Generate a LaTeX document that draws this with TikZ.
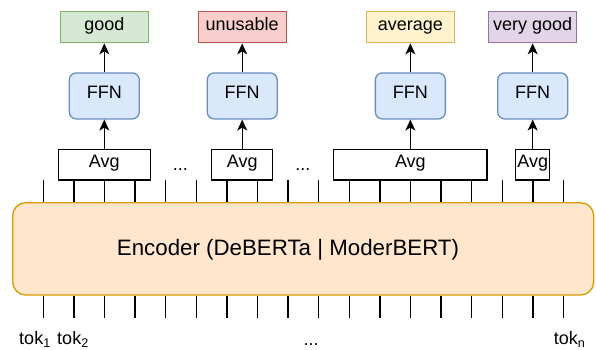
\documentclass[tikz,border=0pt]{standalone}
\usepackage{fontspec}
\setmainfont{Liberation Sans}
\usetikzlibrary{arrows.meta}
\definecolor{gfill}{HTML}{D5E8D4}\definecolor{gline}{HTML}{82B366}
\definecolor{rfill}{HTML}{F8CECC}\definecolor{rline}{HTML}{B85450}
\definecolor{yfill}{HTML}{FFF2CC}\definecolor{yline}{HTML}{D6B656}
\definecolor{pfill}{HTML}{E1D5E7}\definecolor{pline}{HTML}{9673A6}
\definecolor{bfill}{HTML}{DAE8FC}\definecolor{bline}{HTML}{6C8EBF}
\definecolor{ofill}{HTML}{FFE6CC}\definecolor{oline}{HTML}{D79B00}
\begin{document}
\begin{tikzpicture}[x=1pt,y=-1pt,line width=1.3pt,
  txt/.style={font=\fontsize{18}{21}\selectfont,inner sep=0pt,text height=0.65em,text depth=0.05em},
  lab/.style={txt,draw,minimum width=88pt,minimum height=31pt},
  ffn/.style={txt,draw=bline,fill=bfill,rounded corners=7pt,minimum width=70pt,minimum height=46pt},
  avg/.style={txt,draw,minimum height=30.7pt},
  arr/.style={-{Stealth[length=11pt,width=10pt,inset=3pt]}},
  tok/.style={font=\fontsize{18}{21}\selectfont,inner sep=0pt,anchor=base}]
\useasboundingbox (0,0) rectangle (596,349);
% encoder
\node[draw=oline,fill=ofill,rounded corners=13pt,minimum width=581pt,minimum height=92.3pt,inner sep=0pt] (enc) at (303.2,248.85) {};
\node[font=\fontsize{22.3}{26}\selectfont,inner sep=0pt,anchor=base] (enctxt) at (288,255) {Encoder (DeBERTa | ModerBERT)};
% ticks
\foreach \i in {0,...,17}{
  \coordinate (u\i) at ({43.3+\i*30.6},180);
  \coordinate (d\i) at ({43.3+\i*30.6},317.7);
  \draw (u\i) -- (u\i |- enc.north);
  \draw (enc.south -| d\i) -- (d\i);
}
% avg boxes
\node[avg,minimum width=92pt] (a1) at (104.3,164.7) {Avg};
\node[avg,minimum width=61pt] (a2) at (242.2,164.7) {Avg};
\node[avg,minimum width=153.3pt] (a3) at (410.35,164.7) {Avg};
\node[avg,minimum width=34pt] (a4) at (532.7,164.7) {Avg};
% ffn
\node[ffn] (f1) at (104.3,95.9) {FFN};
\node[ffn] (f2) at (242.2,95.9) {FFN};
\node[ffn] (f3) at (410.35,95.9) {FFN};
\node[ffn] (f4) at (532.7,95.9) {FFN};
% labels
\node[lab,draw=gline,fill=gfill] (l1) at (104.3,27.2) {good};
\node[lab,draw=rline,fill=rfill] (l2) at (242.2,27.2) {unusable};
\node[lab,draw=yline,fill=yfill] (l3) at (410.35,27.2) {average};
\node[lab,draw=pline,fill=pfill] (l4) at (532.7,27.2) {very good};
% arrows
\foreach \k in {1,2,3,4}{
  \draw[arr] (a\k) -- (f\k);
  \draw[arr] (f\k) -- (l\k);
}
% dots
\node[tok] (dots1) at (180.3,170.5) {...};
\node[tok] (dots2) at (302.8,170.5) {...};
\node[tok] (dots3) at (311,345) {...};
% tokens
\node[tok] (t1) at (35,344.5) {tok\textsubscript{1}};
\node[tok] (t2) at (73,344.5) {tok\textsubscript{2}};
\node[tok] (tn) at (569.5,344.5) {tok\textsubscript{n}};
\end{tikzpicture}
\end{document}
